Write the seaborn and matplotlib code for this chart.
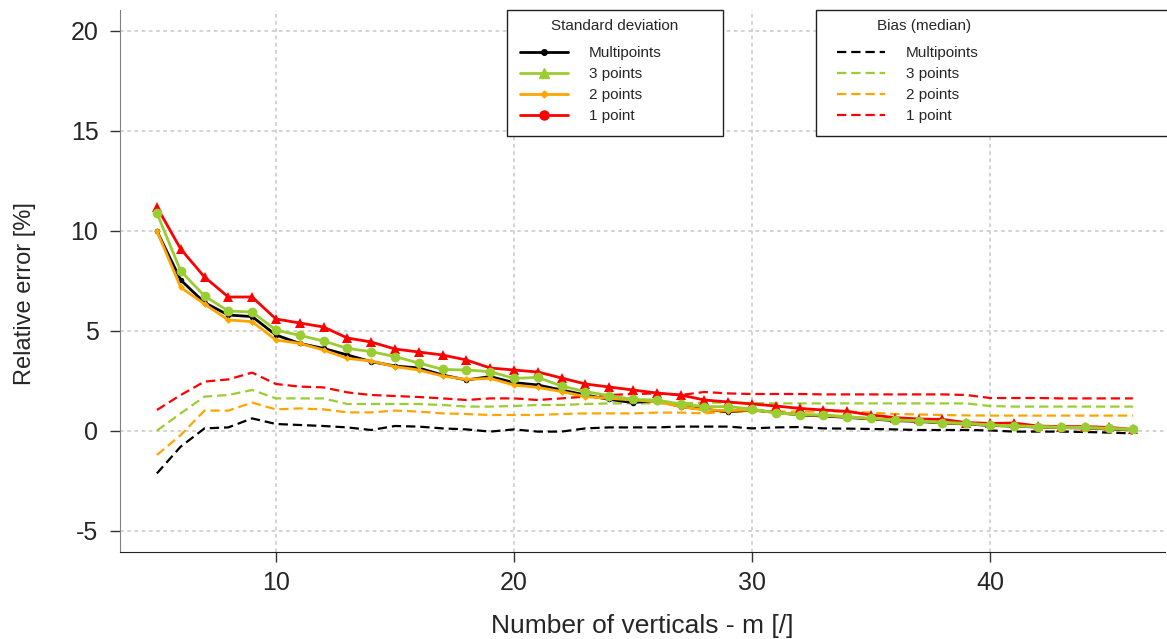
import numpy as np
import pandas as pd
import matplotlib
matplotlib.use("Agg")
import matplotlib.pyplot as plt
from matplotlib.lines import Line2D
from matplotlib.patches import Rectangle
import seaborn as sns

# ===========================
# DATA
# ===========================
m_verticals = list(range(5, 47))

sd_multipoints = [10.0, 7.55, 6.42, 5.8, 5.72, 4.8, 4.38, 4.13, 3.8, 3.47, 3.25, 3.15, 2.8, 2.55,
                  2.72, 2.42, 2.3, 2.05, 1.8, 1.58, 1.42, 1.52, 1.22, 1.08, 0.97, 1.05, 0.93, 0.8,
                  0.75, 0.68, 0.6, 0.52, 0.48, 0.4, 0.35, 0.28, 0.24, 0.2, 0.17, 0.15, 0.1, 0.05]
sd_3points = [10.9, 8.0, 6.75, 6.0, 5.95, 5.05, 4.78, 4.5, 4.13, 3.97, 3.72, 3.4, 3.08, 3.05,
              2.97, 2.63, 2.68, 2.25, 1.97, 1.77, 1.58, 1.55, 1.35, 1.22, 1.22, 1.1, 0.9, 0.82,
              0.8, 0.72, 0.63, 0.55, 0.52, 0.42, 0.38, 0.3, 0.25, 0.22, 0.18, 0.18, 0.13, 0.08]
sd_2points = [10.0, 7.18, 6.35, 5.55, 5.47, 4.55, 4.38, 4.05, 3.63, 3.5, 3.22, 3.05, 2.75, 2.58,
              2.63, 2.3, 2.18, 1.97, 1.72, 1.63, 1.55, 1.47, 1.22, 1.05, 1.02, 1.05, 0.93, 0.82,
              0.78, 0.7, 0.62, 0.55, 0.5, 0.42, 0.37, 0.3, 0.26, 0.22, 0.18, 0.16, 0.12, 0.07]
sd_1point = [11.2, 9.1, 7.7, 6.7, 6.7, 5.6, 5.4, 5.2, 4.65, 4.45, 4.1, 3.95, 3.8, 3.55,
             3.15, 3.05, 2.95, 2.65, 2.35, 2.2, 2.05, 1.9, 1.8, 1.55, 1.45, 1.35, 1.25, 1.13,
             1.05, 0.98, 0.8, 0.67, 0.6, 0.58, 0.42, 0.38, 0.4, 0.25, 0.22, 0.22, 0.18, 0.08]

bias_multipoints = [-2.12, -0.78, 0.13, 0.18, 0.63, 0.35, 0.3, 0.25, 0.18, 0.05, 0.25, 0.22, 0.13, 0.08,
                    -0.03, 0.08, -0.03, -0.03, 0.13, 0.18, 0.18, 0.18, 0.22, 0.22, 0.22, 0.13, 0.18, 0.2,
                    0.13, 0.12, 0.1, 0.08, 0.05, 0.05, 0.05, 0.03, -0.03, -0.03, -0.03, -0.05, -0.08, -0.12]
bias_3points = [0.02, 0.88, 1.72, 1.8, 2.05, 1.63, 1.63, 1.63, 1.35, 1.35, 1.35, 1.35, 1.3, 1.22,
                1.22, 1.25, 1.3, 1.3, 1.35, 1.38, 1.38, 1.38, 1.38, 1.42, 1.42, 1.4, 1.38, 1.38,
                1.38, 1.38, 1.38, 1.38, 1.38, 1.38, 1.38, 1.25, 1.22, 1.22, 1.22, 1.22, 1.22, 1.22]
bias_2points = [-1.2, -0.2, 1.02, 1.02, 1.42, 1.08, 1.13, 1.08, 0.93, 0.93, 1.02, 0.97, 0.88, 0.85,
                0.8, 0.8, 0.8, 0.85, 0.88, 0.88, 0.88, 0.92, 0.92, 0.88, 0.97, 0.97, 0.97, 0.97,
                0.97, 0.97, 0.92, 0.85, 0.83, 0.8, 0.78, 0.77, 0.77, 0.77, 0.77, 0.77, 0.77, 0.77]
bias_1point = [1.05, 1.8, 2.47, 2.58, 2.92, 2.35, 2.22, 2.18, 1.93, 1.8, 1.75, 1.7, 1.63, 1.55,
               1.63, 1.63, 1.55, 1.63, 1.72, 1.8, 1.85, 1.88, 1.8, 1.95, 1.88, 1.85, 1.85, 1.85,
               1.83, 1.83, 1.83, 1.83, 1.83, 1.83, 1.8, 1.65, 1.65, 1.65, 1.63, 1.63, 1.63, 1.63]

series_labels = ["Multipoints", "3 points", "2 points", "1 point"]
series_colors = ["black", "yellowgreen", "orange", "red"]

x_ticks = [10, 20, 30, 40]
y_ticks = [-5, 0, 5, 10, 15, 20]

# ===========================
# STYLE
# ===========================
sns.set_style("white")
plt.rcParams["font.family"] = ["Liberation Sans", "DejaVu Sans"]
plt.rcParams["axes.unicode_minus"] = False

LEG_SIZE = 11

W, H = 1167, 639
fig = plt.figure(figsize=(W / 100, H / 100), dpi=100)
ax = fig.add_axes([120 / W, 87 / H, 1045 / W, 542 / H])

DASH = (0, (4.2, 2.2))

# bias (dashed) first, standard deviation on top
bias_sets = [bias_multipoints, bias_3points, bias_2points, bias_1point]
for vals, col in zip(bias_sets, series_colors):
    sns.lineplot(x=m_verticals, y=vals, color=col, linewidth=1.6, linestyle=DASH, ax=ax)

sd_order = [(sd_1point, "red", "^", 7.5),
            (sd_multipoints, "black", "o", 4.0),
            (sd_2points, "orange", "D", 3.5),
            (sd_3points, "yellowgreen", "o", 7.0)]
for vals, col, mk, ms in sd_order:
    sns.lineplot(x=m_verticals, y=vals, color=col, linewidth=2.0, marker=mk,
                 markersize=ms, markeredgewidth=0, ax=ax)

ax.set_xlim(3.45, 47.35)
ax.set_ylim(-6.05, 21.05)
ax.set_xticks(x_ticks)
ax.set_yticks(y_ticks)
ax.grid(True, color="#d0d0d0", linestyle=(0, (2, 2)), linewidth=1.3)
ax.set_axisbelow(True)

for s in ["top", "right"]:
    ax.spines[s].set_visible(False)
ax.spines["left"].set_color("#808080")
ax.spines["bottom"].set_color("#222222")
ax.tick_params(axis="both", labelsize=18, direction="out", length=7.5, width=1,
               color="#333333", left=True, bottom=True)
ax.tick_params(axis="y", pad=8)
ax.tick_params(axis="x", pad=6)

ax.set_xlabel("Number of verticals - m [/]", fontsize=19, labelpad=14)
ax.set_ylabel("Relative error [%]", fontsize=17)
ax.yaxis.set_label_coords((36 - 120) / 1045, (552 - 294) / 542)

# ===========================
# LEGENDS
# ===========================
sd_handles = [
    Line2D([], [], color="black", lw=2, marker="o", ms=4),
    Line2D([], [], color="yellowgreen", lw=2, marker="^", ms=7),
    Line2D([], [], color="orange", lw=2, marker="D", ms=3.5),
    Line2D([], [], color="red", lw=2, marker="o", ms=6.5),
]
bias_handles = [Line2D([], [], color=c, lw=1.6, linestyle=DASH) for c in series_colors]

for x0, w in [(507, 216), (816, 400)]:
    ax.add_patch(Rectangle((x0 / W, 1 - 136 / H), w / W, 126 / H, transform=fig.transFigure,
                           facecolor="white", edgecolor="#222222", lw=1, zorder=6, clip_on=False))

leg_kw = dict(frameon=False, fontsize=LEG_SIZE, handlelength=48 / (LEG_SIZE * 100 / 72),
              handletextpad=21 / (LEG_SIZE * 100 / 72), labelspacing=0.46, borderpad=0,
              borderaxespad=0, loc="upper left", bbox_transform=fig.transFigure)

leg1 = ax.legend(sd_handles, series_labels, bbox_to_anchor=(520 / W, 1 - 46 / H), **leg_kw)
leg1.set_zorder(7)
ax.add_artist(leg1)
leg2 = ax.legend(bias_handles, series_labels, bbox_to_anchor=(837 / W, 1 - 46 / H), **leg_kw)
leg2.set_zorder(7)

ax.text(615 / W, 1 - 26 / H, "Standard deviation", fontsize=LEG_SIZE,
        ha="center", va="center", transform=fig.transFigure, zorder=8)
ax.text(924 / W, 1 - 26 / H, "Bias (median)", fontsize=LEG_SIZE,
        ha="center", va="center", transform=fig.transFigure, zorder=8)

fig.savefig("out.png", dpi=100)
